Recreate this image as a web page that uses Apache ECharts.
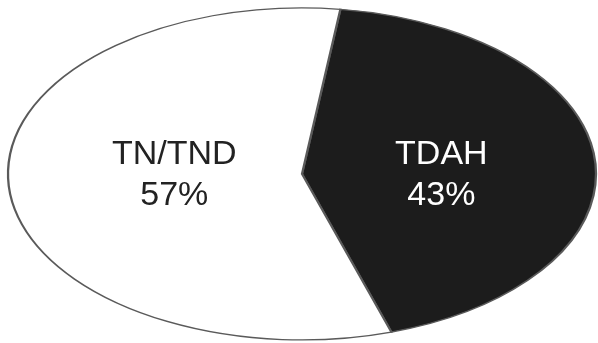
<!DOCTYPE html>
<html>
<head>
<meta charset="utf-8">
<script src="https://cdn.jsdelivr.net/npm/echarts@6/dist/echarts.min.js"></script>
<style>html,body{margin:0;padding:0;background:#fff}#c{width:598px;height:343px}</style>
</head>
<body>
<div id="c"></div>
<script>
var categories = ['TDAH', 'TN/TND'];
var values = [43, 57];
var sliceColors = ['#1c1c1c', '#ffffff'];
var labelColors = ['#ffffff', '#222222'];

var total = values.reduce(function (a, b) { return a + b; }, 0);
var startDeg = 7.5; // clockwise from 12 o'clock
var starts = [];
var acc = 0;
values.forEach(function (v) { starts.push(acc); acc += v; });
var labelRadius = [0.476, 0.436];

var chart = echarts.init(document.getElementById('c'), null, { renderer: 'canvas' });
chart.setOption({
  backgroundColor: '#ffffff',
  animation: false,
  series: [{
    type: 'custom',
    coordinateSystem: 'none',
    data: values.map(function (v, i) { return [i, v]; }),
    renderItem: function (params, api) {
      var i = params.dataIndex;
      var W = api.getWidth(), H = api.getHeight();
      var cx = W * 0.505, cy = H * 0.507, rx = W * 0.4916, ry = H * 0.484;
      var a0 = (startDeg + starts[i] / total * 360) * Math.PI / 180;
      var a1 = (startDeg + (starts[i] + values[i]) / total * 360) * Math.PI / 180;
      var mid = (a0 + a1) / 2;
      var lx = cx + Math.sin(mid) * rx * labelRadius[i];
      var ly = cy + 1;
      var pct = Math.round(values[i] / total * 100) + '%';
      return {
        type: 'group',
        children: [{
          type: 'sector',
          x: cx, y: cy, scaleX: rx / ry, scaleY: 1,
          shape: { cx: 0, cy: 0, r0: 0, r: ry, startAngle: a0 - Math.PI / 2, endAngle: a1 - Math.PI / 2, clockwise: true },
          style: { fill: sliceColors[i], stroke: '#5a5a5a', lineWidth: 1.3, strokeNoScale: true }
        }, {
          type: 'text',
          x: lx, y: ly,
          style: {
            text: categories[i] + '\n' + pct,
            fill: labelColors[i],
            fontFamily: 'Liberation Sans, Arial, sans-serif',
            fontSize: 34,
            lineHeight: 41,
            align: 'center',
            verticalAlign: 'middle'
          }
        }]
      };
    }
  }]
});
</script>
</body>
</html>
